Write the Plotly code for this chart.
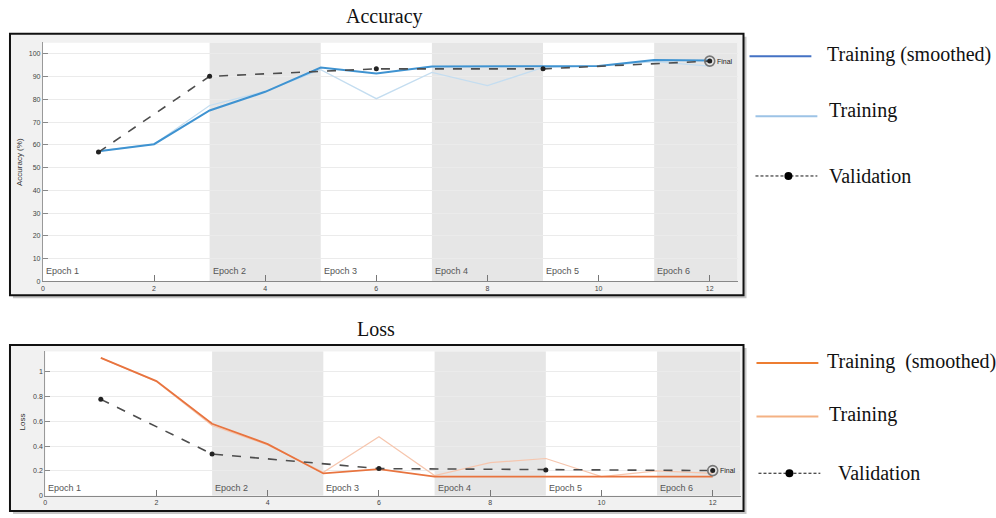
import plotly.graph_objects as go

# ---------------- data ----------------
iters = [1, 2, 3, 4, 5, 6, 7, 8, 9, 10, 11, 12]
acc_smooth = [57.2, 60.3, 75.1, 83.3, 94.0, 91.4, 94.4, 94.4, 94.4, 94.6, 97.3, 97.1]
acc_raw = [57.2, 60.3, 77.3, 83.5, 93.0, 80.3, 91.8, 86.0, 94.0, 94.6, 96.6, 94.6]
val_iters = [1, 3, 6, 9, 12]
acc_val = [56.8, 90.1, 93.4, 93.4, 96.8]

loss_smooth = [1.11, 0.923, 0.58, 0.416, 0.18, 0.215, 0.155, 0.155, 0.155, 0.155, 0.155, 0.155]
loss_raw = [1.11, 0.92, 0.565, 0.41, 0.19, 0.475, 0.163, 0.267, 0.30, 0.155, 0.20, 0.18]
loss_val = [0.776, 0.336, 0.219, 0.208, 0.203]

epoch_labels = ["Epoch 1", "Epoch 2", "Epoch 3", "Epoch 4", "Epoch 5", "Epoch 6"]
epoch_starts = [0, 3, 5, 7, 9, 11]
x_max = 12.5
acc_ticks = [0, 10, 20, 30, 40, 50, 60, 70, 80, 90, 100]
loss_ticks = [0, 0.2, 0.4, 0.6, 0.8, 1]
loss_ticktext = ["0", "0.2", "0.4", "0.6", "0.8", "1"]
x_ticks = [0, 2, 4, 6, 8, 10, 12]

W, H = 996, 518


def px(x):
    return x / W


def py(y):
    return 1 - y / H


fig = go.Figure()

# ---------------- traces ----------------
blue = "#3f93d1"
blue_l = "#c4ddf0"
orange = "#e8743f"
orange_l = "#f6c6ae"
valc = "#4d4d4d"

fig.add_trace(go.Scatter(x=iters, y=acc_raw, mode="lines", line=dict(color=blue_l, width=1.3),
                         xaxis="x", yaxis="y", showlegend=False))
fig.add_trace(go.Scatter(x=iters, y=acc_smooth, mode="lines", line=dict(color=blue, width=2),
                         xaxis="x", yaxis="y", showlegend=False))
fig.add_trace(go.Scatter(x=val_iters, y=acc_val, mode="lines+markers",
                         line=dict(color=valc, width=1.6, dash="dash"),
                         marker=dict(color="#222", size=5),
                         xaxis="x", yaxis="y", showlegend=False))
fig.add_trace(go.Scatter(x=val_iters[-1:], y=acc_val[-1:], mode="markers",
                         marker=dict(color="rgba(0,0,0,0)", size=10, line=dict(color="#777", width=1.6)),
                         xaxis="x", yaxis="y", showlegend=False))

fig.add_trace(go.Scatter(x=iters, y=loss_raw, mode="lines", line=dict(color=orange_l, width=1.2),
                         xaxis="x2", yaxis="y2", showlegend=False))
fig.add_trace(go.Scatter(x=iters, y=loss_smooth, mode="lines", line=dict(color=orange, width=1.8),
                         xaxis="x2", yaxis="y2", showlegend=False))
fig.add_trace(go.Scatter(x=val_iters, y=loss_val, mode="lines+markers",
                         line=dict(color=valc, width=1.6, dash="dash"),
                         marker=dict(color="#222", size=5),
                         xaxis="x2", yaxis="y2", showlegend=False))
fig.add_trace(go.Scatter(x=val_iters[-1:], y=loss_val[-1:], mode="markers",
                         marker=dict(color="rgba(0,0,0,0)", size=10, line=dict(color="#777", width=1.6)),
                         xaxis="x2", yaxis="y2", showlegend=False))

# ---------------- shapes ----------------
shapes = []
frames = [(8, 34, 743, 297), (8, 347, 743, 514)]
for (x0, y0, x1, y1) in frames:
    shapes.append(dict(type="rect", xref="paper", yref="paper", layer="below",
                       x0=px(x0 + 3), x1=px(x1 + 3), y0=py(y1 + 3), y1=py(y0 + 3),
                       fillcolor="rgba(0,0,0,0.22)", line=dict(width=0)))
    shapes.append(dict(type="rect", xref="paper", yref="paper", layer="below",
                       x0=px(x0), x1=px(x1), y0=py(y1), y1=py(y0),
                       fillcolor="#f1f1f1", line=dict(color="#111", width=2)))

for xa, ya, ytop in [("x", "y", 105), ("x2", "y2", 1.163)]:
    shapes.append(dict(type="rect", xref=xa, yref=ya, layer="below",
                       x0=0, x1=x_max, y0=0, y1=ytop, fillcolor="white", line=dict(width=0)))
    for i, s in enumerate(epoch_starts):
        if i % 2 == 1:
            e = epoch_starts[i + 1] if i + 1 < len(epoch_starts) else x_max
            shapes.append(dict(type="rect", xref=xa, yref=ya, layer="below",
                               x0=s, x1=e, y0=0, y1=ytop, fillcolor="#e6e6e6", line=dict(width=0)))

# legend symbols
leg_top = [(749, 811, 56.5, "#4472c4", 2), (755, 817, 117, "#9dc3e6", 2)]
leg_bot = [(756, 818, 365, "#ed7d31", 2), (756, 818, 419, "#f4b183", 2)]
for (x0, x1, y, c, w) in leg_top + leg_bot:
    shapes.append(dict(type="line", xref="paper", yref="paper", x0=px(x0), x1=px(x1),
                       y0=py(y), y1=py(y), line=dict(color=c, width=w)))
for (x0, x1, y, dot) in [(755, 817, 177, 788), (758, 820, 476, 789)]:
    shapes.append(dict(type="line", xref="paper", yref="paper", x0=px(x0), x1=px(x1),
                       y0=py(y), y1=py(y), line=dict(color="#111", width=1, dash="3px,2px")))
    shapes.append(dict(type="circle", xref="paper", yref="paper", x0=px(dot - 4), x1=px(dot + 4),
                       y0=py(y + 4), y1=py(y - 4), fillcolor="#000", line=dict(color="#000", width=0)))

# ---------------- annotations ----------------
ann = []
serif = "Liberation Serif, Times New Roman, serif"
ann.append(dict(text="Accuracy", x=px(383), y=py(17), xref="paper", yref="paper", showarrow=False,
                font=dict(family=serif, size=20, color="#111"), xanchor="center", yanchor="middle"))
ann.append(dict(text="Loss", x=px(375), y=py(331), xref="paper", yref="paper", showarrow=False,
                font=dict(family=serif, size=20, color="#111"), xanchor="center", yanchor="middle"))
leg_texts = [("Training (smoothed)", 825, 55), ("Training", 827, 111.5), ("Validation", 827, 177),
             ("Training\u00a0 (smoothed)", 825, 364), ("Training", 827, 417), ("Validation", 836, 476)]
for t, x, y in leg_texts:
    ann.append(dict(text=t, x=px(x), y=py(y), xref="paper", yref="paper", showarrow=False,
                    font=dict(family=serif, size=20, color="#111"), xanchor="left", yanchor="middle"))

for xa, ya, yd in [("x", "y domain", 0.043), ("x2", "y2 domain", 0.055)]:
    for lab, s in zip(epoch_labels, epoch_starts):
        ann.append(dict(text=lab, x=s, y=yd, xref=xa, yref=ya, showarrow=False, xanchor="left",
                        yanchor="middle", xshift=1,
                        font=dict(family="Arial, Liberation Sans, sans-serif", size=9, color="#555")))

ann.append(dict(text="Final", x=val_iters[-1], y=acc_val[-1], xref="x", yref="y", showarrow=False,
                xanchor="left", yanchor="middle", xshift=5,
                font=dict(family="Arial, Liberation Sans, sans-serif", size=7, color="#222")))
ann.append(dict(text="Final", x=val_iters[-1], y=loss_val[-1], xref="x2", yref="y2", showarrow=False,
                xanchor="left", yanchor="middle", xshift=5,
                font=dict(family="Arial, Liberation Sans, sans-serif", size=7, color="#222")))

ann.append(dict(text="Accuracy (%)", x=px(17), y=py(163), xref="paper", yref="paper", showarrow=False,
                textangle=-90, xanchor="center", yanchor="middle",
                font=dict(family="Arial, Liberation Sans, sans-serif", size=8, color="#333")))
ann.append(dict(text="Loss", x=px(21), y=py(424), xref="paper", yref="paper", showarrow=False,
                textangle=-90, xanchor="center", yanchor="middle",
                font=dict(family="Arial, Liberation Sans, sans-serif", size=8, color="#333")))

tickfont = dict(family="Arial, Liberation Sans, sans-serif", size=7, color="#444")
common_x = dict(range=[0, x_max], tickvals=x_ticks, ticks="inside", ticklen=6, tickcolor="#777",
                showline=True, linecolor="#888", linewidth=1, showgrid=False, zeroline=False,
                tickfont=tickfont, fixedrange=True)
common_y = dict(ticks="inside", ticklen=5, tickcolor="#888", showline=True, linecolor="#999",
                linewidth=1, showgrid=True, gridcolor="#ebebeb", gridwidth=1, zeroline=False,
                tickfont=tickfont, fixedrange=True)

fig.update_layout(
    width=W, height=H, margin=dict(l=0, r=0, t=0, b=0),
    paper_bgcolor="white", plot_bgcolor="white", showlegend=False,
    xaxis=dict(domain=[px(41), px(737)], anchor="y", **common_x),
    yaxis=dict(domain=[py(283), py(42.7)], anchor="x", range=[0, 105], tickvals=acc_ticks, **common_y),
    xaxis2=dict(domain=[px(43.3), px(740)], anchor="y2", **common_x),
    yaxis2=dict(domain=[py(498.7), py(353.3)], anchor="x2", range=[0, 1.163], tickvals=loss_ticks,
                ticktext=loss_ticktext, **common_y),
    shapes=shapes, annotations=ann,
)

fig.write_html("out.html", config={"displayModeBar": False},
               post_script="document.body.style.margin='0';document.body.style.overflow='hidden';")
